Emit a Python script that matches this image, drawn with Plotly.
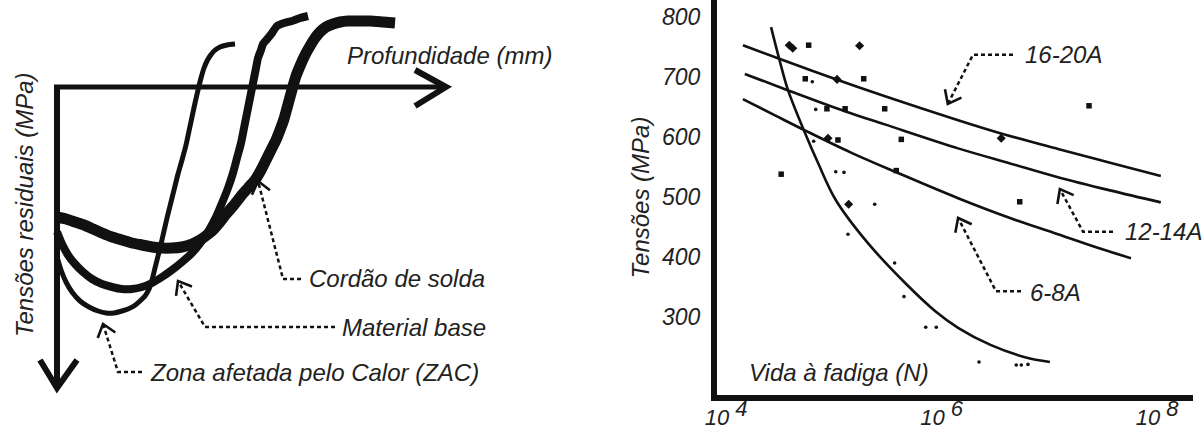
import numpy as np
import plotly.graph_objects as go

# ---------------- LEFT PANEL: residual stress profiles (schematic) ----------------
# depth (arbitrary mm) and residual stress (arbitrary MPa, positive downwards)
depth_solda = [0, 0.45, 0.9, 1.35, 1.8, 2.25, 2.75, 3.25, 3.75, 4.25, 4.75, 5.25, 5.75, 6.25, 6.75,
               7.15, 7.5, 7.85, 8.15, 8.5, 8.85, 9.2, 9.55, 9.9, 10.2, 10.45, 10.7, 10.95, 11.15,
               11.35, 11.5, 11.65, 11.8, 11.95, 12.15, 12.4, 12.65, 12.9, 13.15, 13.45, 13.8,
               14.15, 14.55, 15.05, 15.65, 16.3, 16.9]
stress_solda = [260, 264, 270, 276, 284, 292, 300, 306, 312, 316, 320, 322, 322, 320, 314,
                306, 296, 284, 270, 252, 236, 218, 202, 186, 166, 146, 126, 106, 86,
                64, 42, 20, -2, -22, -42, -64, -82, -98, -110, -120, -126,
                -130, -132, -132, -132, -130, -128]

depth_base = [0, 0.25, 0.55, 0.9, 1.3, 1.75, 2.25, 2.75, 3.25, 3.75, 4.25, 4.75, 5.25, 5.75,
              6.25, 6.75, 7.2, 7.6, 7.95, 8.25, 8.55, 8.8, 9.0, 9.2, 9.35, 9.5, 9.65, 9.8,
              9.95, 10.05, 10.2, 10.3, 10.55, 10.75, 11.0, 11.35, 11.75, 12.15, 12.55]
stress_base = [290, 314, 336, 354, 370, 384, 394, 400, 404, 404, 400, 392, 380, 366,
               350, 332, 310, 286, 260, 232, 202, 172, 142, 112, 82, 52, 22, -8,
               -38, -58, -74, -86, -98, -108, -122, -128, -132, -138, -142]

depth_zac = [0, 0.2, 0.45, 0.75, 1.15, 1.6, 2.05, 2.45, 2.85, 3.25, 3.55, 3.85, 4.15, 4.4,
             4.6, 4.75, 4.9, 5.05, 5.2, 5.35, 5.5, 5.65, 5.85, 6.05, 6.25, 6.45, 6.6, 6.75,
             6.9, 7.05, 7.2, 7.35, 7.5, 7.65, 7.85, 8.15, 8.5, 8.9]
stress_zac = [340, 366, 390, 410, 428, 440, 448, 452, 452, 448, 444, 438, 428, 418,
              404, 386, 362, 338, 314, 288, 262, 238, 206, 174, 146, 116, 88, 60,
              32, 6, -18, -38, -52, -62, -72, -80, -84, -86]

# schematic axes (arrows)
axis_depth_end = 19.45
axis_stress_end = 602

# leader lines for the left labels
lead_solda_d, lead_solda_s = [12.2, 11.3, 10.05], [384, 384, 188]
lead_base_d, lead_base_s = [13.9, 7.4, 6.05], [480, 480, 388]
lead_zac_d, lead_zac_s = [4.25, 3.05, 2.3], [570, 570, 474]

# ---------------- RIGHT PANEL: S-N (fatigue) curves ----------------
N_1620 = [1.43e4, 3.16e4, 1.09e5, 2.98e5, 1.42e6, 3.55e6, 1.20e7, 3.65e7, 1.08e8]
S_1620 = [753, 730, 695, 668, 628, 606, 580, 557, 535]
N_1214 = [1.49e4, 3.72e4, 1.26e5, 2.96e5, 1.42e6, 4.31e6, 1.20e7, 3.65e7, 1.08e8]
S_1214 = [705, 678, 643, 621, 581, 556, 533, 511, 491]
N_68 = [1.43e4, 2.84e4, 5.38e4, 1.44e5, 3.93e5, 1.42e6, 4.31e6, 1.20e7, 2.94e7, 5.71e7]
S_68 = [663, 636, 611, 574, 540, 498, 465, 438, 414, 398]
N_steep = [2.61e4, 3.16e4, 3.75e4, 5.38e4, 7.11e4, 1.04e5, 2.07e5, 4.56e5, 8.67e5,
           1.42e6, 2.87e6, 5.93e6, 1.01e7]
S_steep = [783, 725, 678, 607, 557, 495, 423, 357, 310, 282, 253, 233, 225]

sq_N = [5.83e4, 5.42e4, 1.89e5, 8.61e4, 1.27e5, 2.96e5, 1.09e5, 4.22e5, 3.24e4, 3.79e5, 2.33e7, 5.30e6]
sq_S = [753, 697, 697, 647, 647, 647, 595, 596, 538, 544, 652, 492]
dm_N = [3.85e4, 4.15e4, 1.73e5, 1.07e5, 8.81e4, 1.37e5, 3.57e6]
dm_S = [753, 748, 752, 696, 598, 488, 598]
dot_N = [6.30e4, 6.78e4, 6.49e4, 1.04e5, 1.24e5, 2.39e5, 1.35e5, 3.66e5, 4.47e5,
         7.11e5, 8.91e5, 2.22e6, 4.92e6, 5.48e6, 6.32e6]
dot_S = [692, 646, 593, 542, 541, 488, 438, 390, 334, 283, 283, 225, 220, 220, 221]

lead_1620_N, lead_1620_S = [4.59e6, 1.95e6, 1.14e6], [737, 737, 655]
lead_1214_N, lead_1214_S = [3.89e7, 2.05e7, 1.25e7], [442, 442, 513]
lead_68_N, lead_68_S = [5.45e6, 3.19e6, 1.42e6], [343, 343, 465]

series_labels = ["16-20A", "12-14A", "6-8A"]
label_N = [5.69e6, 4.82e7, 6.32e6]
label_S = [737, 442, 340]

x_tick_vals = [1e4, 1e6, 1e8]
x_tick_exps = ["4", "6", "8"]
y_tick_vals = [300, 400, 500, 600, 700, 800]

# ---------------- geometry of the two panels ----------------
W, H = 1202, 435
L_XDOM, L_YDOM = [0, 0.416], [0, 1]
L_XRANGE, L_YRANGE = [-2.85, 22.15], [696, -174]
R_XDOM, R_YDOM = [0.5965, 0.9925], [0.092, 1]
R_XRANGE, R_YRANGE = [3.915, 8.332], [170, 828.3]

# pixels per axis unit (used only to shape the open arrow heads)
sxL = (L_XDOM[1] - L_XDOM[0]) * W / abs(L_XRANGE[1] - L_XRANGE[0])
syL = (L_YDOM[1] - L_YDOM[0]) * H / abs(L_YRANGE[1] - L_YRANGE[0])
sxR = (R_XDOM[1] - R_XDOM[0]) * W / abs(R_XRANGE[1] - R_XRANGE[0])
syR = (R_YDOM[1] - R_YDOM[0]) * H / abs(R_YRANGE[1] - R_YRANGE[0])

INK = "#111111"
TXT = "#222222"
FAM = "Liberation Sans, Arial, sans-serif"


def ital(size):
    return dict(family=FAM, size=size, color=TXT, style="italic")


def chevron(xs, ys, sx, sy, log=False, length=15.0, ang=38.0):
    """open arrow head at the last point of a leader line"""
    x1, y1, x0, y0 = xs[-1], ys[-1], xs[-2], ys[-2]
    if log:
        x1, x0 = np.log10(x1), np.log10(x0)
    dx, dy = (x0 - x1) * sx, (y0 - y1) * sy
    n = np.hypot(dx, dy)
    ux, uy = dx / n, dy / n
    out_x, out_y = [], []
    for a in (np.radians(ang), 0.0, -np.radians(ang)):
        if a == 0.0:
            px, py = x1, y1
        else:
            rx = ux * np.cos(a) - uy * np.sin(a)
            ry = ux * np.sin(a) + uy * np.cos(a)
            px, py = x1 + length * rx / sx, y1 + length * ry / sy
        out_x.append(10 ** px if log else px)
        out_y.append(py)
    return out_x, out_y


fig = go.Figure()

# left schematic axes
fig.add_trace(go.Scatter(x=[-0.15, axis_depth_end], y=[0, 0], mode="lines",
                         line=dict(color=INK, width=5), xaxis="x", yaxis="y", hoverinfo="skip"))
fig.add_trace(go.Scatter(x=[17.9, axis_depth_end, 17.9], y=[-34, 0, 38], mode="lines",
                         line=dict(color=INK, width=6), xaxis="x", yaxis="y", hoverinfo="skip"))
fig.add_trace(go.Scatter(x=[0, 0], y=[0, axis_stress_end], mode="lines",
                         line=dict(color=INK, width=6), xaxis="x", yaxis="y", hoverinfo="skip"))
fig.add_trace(go.Scatter(x=[-0.85, 0, 1.0], y=[546, axis_stress_end, 546], mode="lines",
                         line=dict(color=INK, width=6), xaxis="x", yaxis="y", hoverinfo="skip"))

# residual stress curves
for d, s, w, name in [(depth_zac, stress_zac, 5, "ZAC"),
                      (depth_base, stress_base, 8, "Material base"),
                      (depth_solda, stress_solda, 11, "Cordão de solda")]:
    fig.add_trace(go.Scatter(x=d, y=s, mode="lines", name=name,
                             line=dict(color=INK, width=w, shape="spline", smoothing=0.6),
                             xaxis="x", yaxis="y"))

DASH = dict(color=INK, width=2.5, dash="4px,3px")
HEAD = dict(color=INK, width=2.6)
for d, s in [(lead_solda_d, lead_solda_s), (lead_base_d, lead_base_s), (lead_zac_d, lead_zac_s)]:
    fig.add_trace(go.Scatter(x=d, y=s, mode="lines", line=DASH, xaxis="x", yaxis="y", hoverinfo="skip"))
    hx, hy = chevron(d, s, sxL, syL)
    fig.add_trace(go.Scatter(x=hx, y=hy, mode="lines", line=HEAD, xaxis="x", yaxis="y", hoverinfo="skip"))

# right panel curves
for N, S in [(N_1620, S_1620), (N_1214, S_1214), (N_68, S_68), (N_steep, S_steep)]:
    fig.add_trace(go.Scatter(x=N, y=S, mode="lines",
                             line=dict(color=INK, width=2.6, shape="spline", smoothing=1.0),
                             xaxis="x2", yaxis="y2"))

fig.add_trace(go.Scatter(x=sq_N, y=sq_S, mode="markers",
                         marker=dict(symbol="square", size=5.5, color=INK), xaxis="x2", yaxis="y2"))
fig.add_trace(go.Scatter(x=dm_N, y=dm_S, mode="markers",
                         marker=dict(symbol="diamond", size=7, color=INK), xaxis="x2", yaxis="y2"))
fig.add_trace(go.Scatter(x=dot_N, y=dot_S, mode="markers",
                         marker=dict(symbol="circle", size=3.6, color=INK), xaxis="x2", yaxis="y2"))

for N, S in [(lead_1620_N, lead_1620_S), (lead_1214_N, lead_1214_S), (lead_68_N, lead_68_S)]:
    fig.add_trace(go.Scatter(x=N, y=S, mode="lines", line=DASH, xaxis="x2", yaxis="y2", hoverinfo="skip"))
    hx, hy = chevron(N, S, sxR, syR, log=True)
    fig.add_trace(go.Scatter(x=hx, y=hy, mode="lines", line=HEAD, xaxis="x2", yaxis="y2", hoverinfo="skip"))

# texts (left)
for txt, d, s in [("Profundidade (mm)", 14.4, -64), ("Cordão de solda", 12.5, 382),
                  ("Material base", 14.15, 480), ("Zona afetada pelo Calor (ZAC)", 4.55, 570)]:
    fig.add_annotation(x=d, y=s, xref="x", yref="y", text=txt, showarrow=False,
                       xanchor="left", yanchor="middle", font=ital(24))
fig.add_annotation(x=-1.65, y=236, xref="x", yref="y", text="Tensões residuais (MPa)",
                   textangle=-90, showarrow=False, xanchor="center", yanchor="middle", font=ital(24))

# texts (right)
for txt, N, S in zip(series_labels, label_N, label_S):
    fig.add_annotation(x=np.log10(N), y=S, xref="x2", yref="y2", text=txt, showarrow=False,
                       xanchor="left", yanchor="middle", font=ital(24))
fig.add_annotation(x=np.log10(1.56e4), y=207, xref="x2", yref="y2", text="Vida à fadiga (N)",
                   showarrow=False, xanchor="left", yanchor="middle", font=ital(24))

# power-of-ten tick labels: exponent raised with a baseline shift
x_tick_text = ["10 <span style='baseline-shift:9px'>%s</span>" % e for e in x_tick_exps]

fig.update_layout(
    template="none",
    width=W, height=H,
    margin=dict(l=0, r=0, t=0, b=0),
    paper_bgcolor="white", plot_bgcolor="white",
    showlegend=False,
    xaxis=dict(domain=L_XDOM, range=L_XRANGE, visible=False, automargin=False),
    yaxis=dict(domain=L_YDOM, range=L_YRANGE, visible=False, automargin=False),
    xaxis2=dict(domain=R_XDOM, type="log", range=R_XRANGE, anchor="y2",
                showline=True, linewidth=6, linecolor=INK, showgrid=False, zeroline=False,
                tickvals=x_tick_vals, ticktext=x_tick_text, ticks="", tickfont=ital(22),
                ticklabelstandoff=-2, automargin=False),
    yaxis2=dict(domain=R_YDOM, range=R_YRANGE, anchor="x2",
                showline=True, linewidth=6, linecolor=INK, showgrid=False, zeroline=False,
                tickvals=y_tick_vals, ticks="", tickfont=ital(23), ticklabelstandoff=6,
                title=dict(text="Tensões (MPa)", font=ital(24), standoff=8), automargin=False),
)

fig.write_html("out.html", config={"displayModeBar": False},
               post_script="document.body.style.margin='0';document.body.style.overflow='hidden';")
